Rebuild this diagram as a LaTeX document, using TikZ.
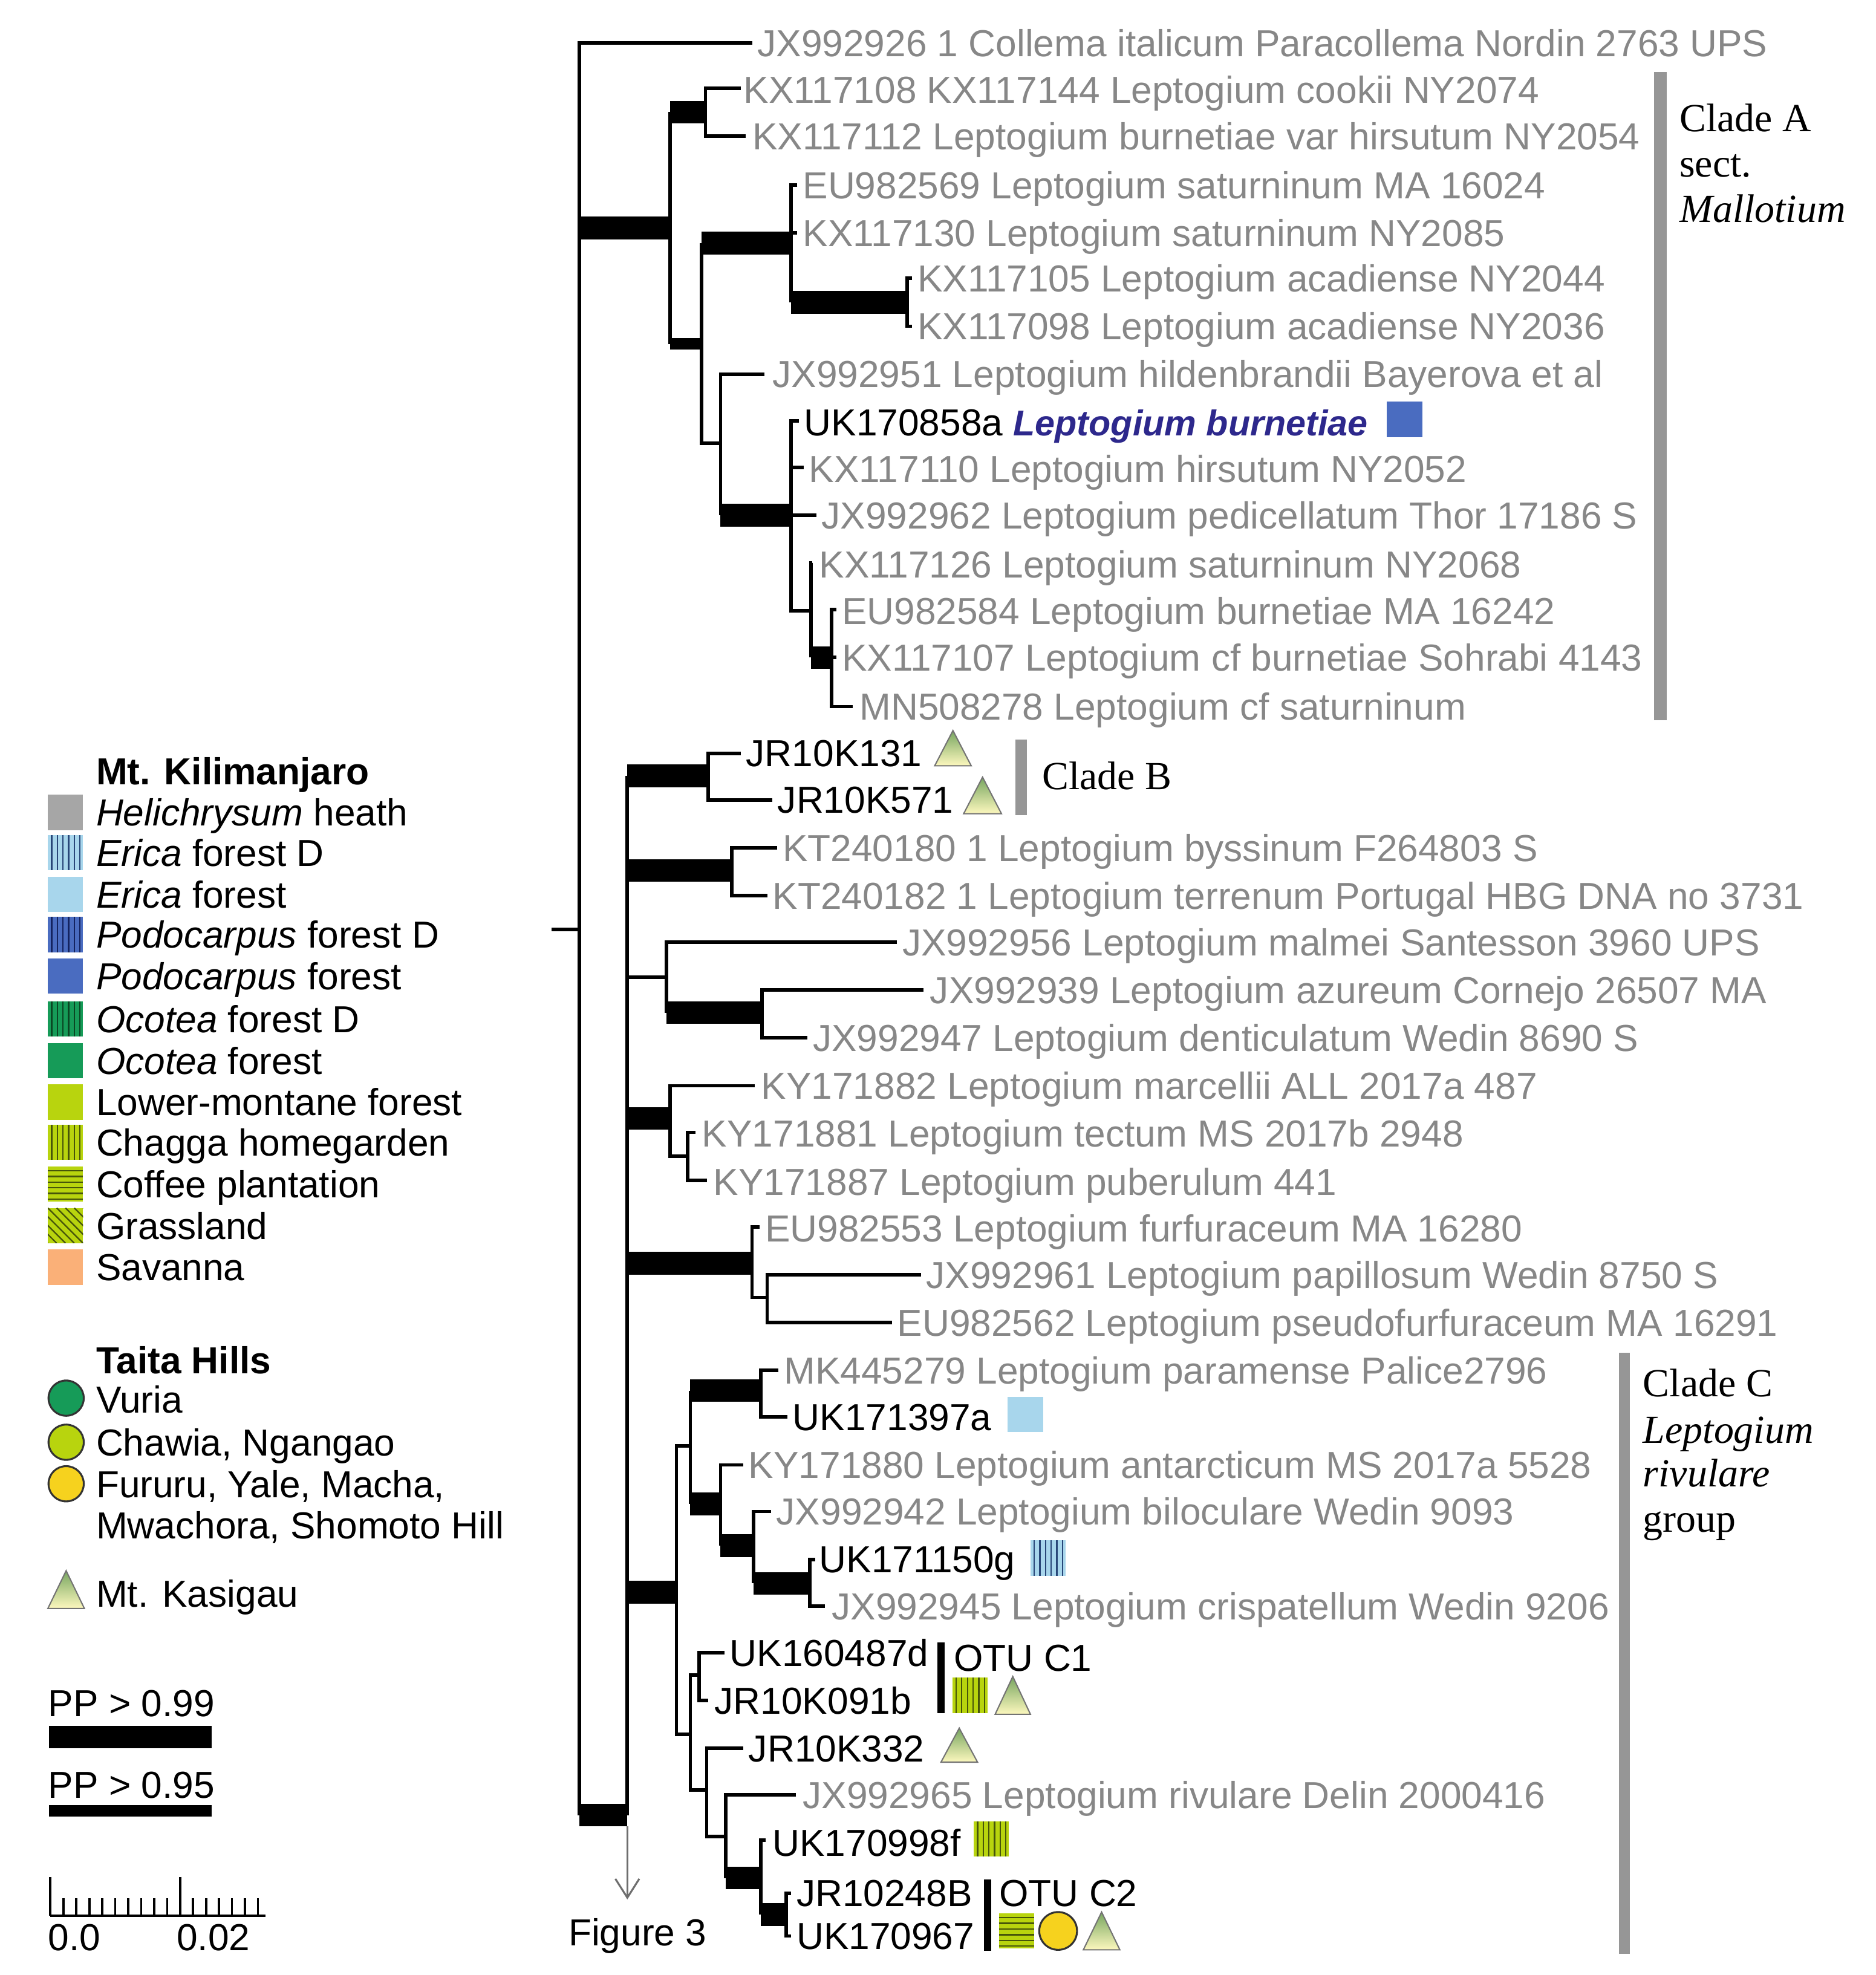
\documentclass[tikz,border=0pt]{standalone}
\usepackage{fontspec}
\setmainfont{Liberation Sans}
\newfontfamily\seriffam{Liberation Serif}
\usetikzlibrary{arrows.meta}
\definecolor{labgray}{RGB}{135,135,135}
\definecolor{cladegray}{RGB}{150,150,150}
\definecolor{arrowgray}{RGB}{110,110,110}
\definecolor{burnblue}{RGB}{45,40,140}
\definecolor{podo}{RGB}{74,108,192}
\definecolor{podod}{RGB}{20,35,95}
\definecolor{erica}{RGB}{168,214,236}
\definecolor{ericad}{RGB}{40,70,120}
\definecolor{heli}{RGB}{166,166,166}
\definecolor{ocotea}{RGB}{22,155,88}
\definecolor{ocotead}{RGB}{10,70,35}
\definecolor{lowm}{RGB}{184,212,14}
\definecolor{olivd}{RGB}{70,85,10}
\definecolor{savanna}{RGB}{250,176,120}
\definecolor{yelc}{RGB}{246,210,30}
\definecolor{trigreen}{RGB}{118,165,95}
\definecolor{triyellow}{RGB}{253,248,190}
\newcommand{\lf}{\fontsize{17}{20}\selectfont}
\newcommand{\cf}{\seriffam\fontsize{18}{21}\selectfont}
\newcommand{\sqfill}[3]{\fill[#3] ({#1-14},{#2-14}) rectangle ({#1+14},{#2+14});}
\newcommand{\sqv}[4]{\sqfill{#1}{#2}{#3}\foreach \dd in {-11,-6.5,-2,2.5,7,11.5}{\draw[#4,line width=0.022cm] ({#1+\dd},{#2-14}) -- ({#1+\dd},{#2+14});}}
\newcommand{\sqh}[4]{\sqfill{#1}{#2}{#3}\foreach \dd in {-10.5,-6,-1.5,3,7.5,12}{\draw[#4,line width=0.022cm] ({#1-14},{#2+\dd}) -- ({#1+14},{#2+\dd});}}
\newcommand{\sqd}[4]{\sqfill{#1}{#2}{#3}\begin{scope}\clip ({#1-14},{#2-14}) rectangle ({#1+14},{#2+14});\foreach \dd in {-35,-28,...,35}{\draw[#4,line width=0.022cm] ({#1-14+\dd},{#2-14}) -- ({#1+14+\dd},{#2+14});}\end{scope}}
\newcommand{\tri}[4]{\shadedraw[top color=trigreen,bottom color=triyellow,draw=black!55,line width=0.02cm] (#1,#4) -- ({(#1+#2)/2},#3) -- (#2,#4) -- cycle;}
\newcommand{\pa}[3]{\fill ({#1},{#3-9}) rectangle ({#2},{#3+9});}
\newcommand{\pb}[3]{\fill ({#1},{#3-4.5}) rectangle ({#2},{#3+4.5});}
\tikzset{
  br/.style={line width=0.056cm},
  lg/.style={anchor=base west, inner sep=0pt, text=labgray, font=\lf, yshift=-6.1pt},
  lb/.style={lg, text=black},
  lh/.style={lg, text=black, font=\lf\bfseries},
  cl/.style={anchor=base west, inner sep=0pt, font=\cf, yshift=-6pt},
}
\begin{document}
\begin{tikzpicture}[x=0.02cm,y=-0.02cm]
\useasboundingbox (0,0) rectangle (1489,1568);
\fill[white] (0,0) rectangle (1489,1568);
% ---------------- tree: root and clade A
\draw[br] (438,738) -- (460,738);
\draw[br] (597,34) -| (460,1441);
\pa{460}{532}{181}
\draw[br] (532,89) -- (532,273);
\pa{532}{560}{89}
\draw[br] (588,70) -| (560,108) -- (592,108);
\pb{532}{557}{273}
\draw[br] (557,193) -- (557,352) -- (572,352);
\pa{557}{628}{193}
\draw[br] (633,147) -| (628,240);
\draw[br] (628,185) -- (633,185);
\pa{628}{720}{240}
\draw[br] (724,221) -| (720,259) -- (724,259);
\draw[br] (607,297) -| (572,409);
\pa{572}{628}{409}
\draw[br] (634,334) -| (628,485) -- (644,485);
\draw[br] (628,371) -- (638,371);
\draw[br] (628,409) -- (648,409);
\draw[br] (645,447) -| (644,522);
\pa{644}{660}{522}
\draw[br] (664,484) -| (660,561) -- (677,561);
\draw[br] (660,522) -- (664,522);
% ---------------- lower part
\pa{460}{498}{1441}
\draw[br] (498,616) -- (498,1441);
\draw[arrowgray,line width=0.03cm,-{Straight Barb[length=0.3cm,width=0.38cm]}] (498,1450) -- (498,1508);
\pa{498}{562}{616}
\draw[br] (588,598) -| (562,635) -- (613,635);
\pa{498}{581}{691}
\draw[br] (617,673) -| (581,711) -- (609,711);
\draw[br] (498,776) -- (529,776);
\draw[br] (712,748) -| (529,804);
\pa{529}{605}{804}
\draw[br] (733,786) -| (605,824) -- (641,824);
\pa{498}{532}{888}
\draw[br] (599,862) -| (532,918) -- (546,918);
\draw[br] (552,899) -| (546,937) -- (561,937);
\pa{498}{597}{1003}
\draw[br] (603,974) -| (597,1030) -- (609,1030);
\draw[br] (731,1012) -| (609,1050) -- (708,1050);
% clade C
\pa{498}{537}{1264}
\draw[br] (548,1148) -| (537,1377) -- (548,1377);
\draw[br] (548,1104) -- (548,1194);
\pa{548}{604}{1104}
\draw[br] (618,1088) -| (604,1125) -- (625,1125);
\pa{548}{572}{1194}
\draw[br] (590,1163) -| (572,1227);
\pa{572}{598}{1227}
\draw[br] (612,1200) -| (598,1257);
\pa{598}{643}{1257}
\draw[br] (647,1238) -| (643,1275) -- (655,1275);
\draw[br] (555,1330) -- (548,1330) -- (548,1421) -- (561,1421);
\draw[br] (575,1312) -| (555,1350) -- (562,1350);
\draw[br] (590,1388) -| (561,1458) -- (576,1458);
\draw[br] (632,1425) -| (576,1491);
\pa{576}{604}{1491}
\draw[br] (608,1461) -| (604,1520);
\pa{604}{624}{1520}
\draw[br] (628,1503) -| (624,1537) -- (628,1537);
% ---------------- labels
\node[lg] (t1) at (601,34) {JX992926 1 Collema italicum Paracollema Nordin 2763 UPS};
\node[lg] (t2) at (590,71) {KX117108 KX117144 Leptogium cookii NY2074};
\node[lg] (t3) at (597,108) {KX117112 Leptogium burnetiae var hirsutum NY2054};
\node[lg] (t4) at (637,147) {EU982569 Leptogium saturninum MA 16024};
\node[lg] (t5) at (637,185) {KX117130 Leptogium saturninum NY2085};
\node[lg] (t6) at (728,221) {KX117105 Leptogium acadiense NY2044};
\node[lg] (t7) at (728,259) {KX117098 Leptogium acadiense NY2036};
\node[lg] (t8) at (613,297) {JX992951 Leptogium hildenbrandii Bayerova et al};
\node[lb] (t9) at (638,335) {UK170858a \textcolor{burnblue}{\fontsize{16.2}{20}\selectfont\bfseries\itshape Leptogium burnetiae}};
\node[lg] (t10) at (642,372) {KX117110 Leptogium hirsutum NY2052};
\node[lg] (t11) at (652,409) {JX992962 Leptogium pedicellatum Thor 17186 S};
\node[lg] (t12) at (650,448) {KX117126 Leptogium saturninum NY2068};
\node[lg] (t13) at (668,485) {EU982584 Leptogium burnetiae MA 16242};
\node[lg] (t14) at (668,522) {KX117107 Leptogium cf burnetiae Sohrabi 4143};
\node[lg] (t15) at (682,561) {MN508278 Leptogium cf saturninum};
\node[lb] (t16) at (592,598) {JR10K131};
\node[lb] (t17) at (617,635) {JR10K571};
\node[lg] (t18) at (621,673) {KT240180 1 Leptogium byssinum F264803 S};
\node[lg] (t19) at (613,711) {KT240182 1 Leptogium terrenum Portugal HBG DNA no 3731};
\node[lg] (t20) at (716,748) {JX992956 Leptogium malmei Santesson 3960 UPS};
\node[lg] (t21) at (738,786) {JX992939 Leptogium azureum Cornejo 26507 MA};
\node[lg] (t22) at (645,824) {JX992947 Leptogium denticulatum Wedin 8690 S};
\node[lg] (t23) at (604,862) {KY171882 Leptogium marcellii ALL 2017a 487};
\node[lg] (t24) at (557,900) {KY171881 Leptogium tectum MS 2017b 2948};
\node[lg] (t25) at (566,938) {KY171887 Leptogium puberulum 441};
\node[lg] (t26) at (607,975) {EU982553 Leptogium furfuraceum MA 16280};
\node[lg] (t27) at (735,1012) {JX992961 Leptogium papillosum Wedin 8750 S};
\node[lg] (t28) at (712,1050) {EU982562 Leptogium pseudofurfuraceum MA 16291};
\node[lg] (t29) at (622,1088) {MK445279 Leptogium paramense Palice2796};
\node[lb] (t30) at (629,1125) {UK171397a};
\node[lg] (t31) at (594,1163) {KY171880 Leptogium antarcticum MS 2017a 5528};
\node[lg] (t32) at (616,1200) {JX992942 Leptogium biloculare Wedin 9093};
\node[lb] (t33) at (650,1238) {UK171150g};
\node[lg] (t34) at (660,1275) {JX992945 Leptogium crispatellum Wedin 9206};
\node[lb] (t35) at (579,1312) {UK160487d};
\node[lb] (t36) at (567,1350) {JR10K091b};
\node[lb] (t37) at (594,1388) {JR10K332};
\node[lg] (t38) at (637,1425) {JX992965 Leptogium rivulare Delin 2000416};
\node[lb] (t39) at (613,1463) {UK170998f};
\node[lb] (t40) at (632,1503) {JR10248B};
\node[lb] (t41) at (632,1537) {UK170967};
% ---------------- symbols in tree
\sqfill{1115}{333}{podo}
\tri{742}{771}{580}{608}
\tri{765}{795}{617}{646}
\sqfill{814}{1123}{erica}
\sqv{832}{1237}{erica}{ericad}
\fill (744,1304) rectangle (750,1360);
\node[lb] (otu1) at (757,1316) {OTU C1};
\sqv{770}{1346}{lowm}{olivd}
\tri{790}{818}{1331}{1361}
\tri{747}{776}{1372}{1399}
\sqv{787}{1460}{lowm}{olivd}
\fill (781,1492) rectangle (787,1549);
\node[lb] (otu2) at (793,1503) {OTU C2};
\sqh{807}{1533}{lowm}{olivd}
\filldraw[fill=yelc,draw=black!80,line width=0.03cm] (840,1533) circle (15);
\tri{860}{889}{1518}{1548}
% ---------------- clade bars
\fill[cladegray] (1313,57) rectangle (1323,572);
\node[cl] (ca1) at (1333,94) {Clade A};
\node[cl] (ca2) at (1333,130) {sect.};
\node[cl] (ca3) at (1333,166) {\itshape Mallotium};
\fill[cladegray] (806,587) rectangle (815,647);
\node[cl] (cb) at (827,616) {Clade B};
\fill[cladegray] (1285,1074) rectangle (1294,1551);
\node[cl] (cc1) at (1304,1098) {Clade C};
\node[cl] (cc2) at (1304,1135) {\itshape Leptogium};
\node[cl] (cc3) at (1304,1170) {\itshape rivulare};
\node[cl] (cc4) at (1304,1206) {group};
\node[lb] (fig3) at (451,1534) {Figure 3};
% ---------------- legend
\node[lh] (kil) at (76,612) {Mt. Kilimanjaro};
\sqfill{52}{645}{heli}
\sqv{52}{677}{erica}{ericad}
\sqfill{52}{710}{erica}
\sqv{52}{742}{podo}{podod}
\sqfill{52}{775}{podo}
\sqv{52}{809}{ocotea}{ocotead}
\sqfill{52}{842}{ocotea}
\sqfill{52}{875}{lowm}
\sqv{52}{907}{lowm}{olivd}
\sqh{52}{940}{lowm}{olivd}
\sqd{52}{973}{lowm}{olivd}
\sqfill{52}{1006}{savanna}
\node[lb] (l1) at (76,645) {\itshape Helichrysum\upshape\ heath};
\node[lb] (l2) at (76,677) {\itshape Erica\upshape\ forest D};
\node[lb] (l3) at (76,710) {\itshape Erica\upshape\ forest};
\node[lb] (l4) at (76,742) {\itshape Podocarpus\upshape\ forest D};
\node[lb] (l5) at (76,775) {\itshape Podocarpus\upshape\ forest};
\node[lb] (l6) at (76,809) {\itshape Ocotea\upshape\ forest D};
\node[lb] (l7) at (76,842) {\itshape Ocotea\upshape\ forest};
\node[lb] (l8) at (76,875) {Lower-montane forest};
\node[lb] (l9) at (76,907) {Chagga homegarden};
\node[lb] (l10) at (76,940) {Coffee plantation};
\node[lb] (l11) at (76,973) {Grassland};
\node[lb] (l12) at (76,1006) {Savanna};
\node[lh] (taita) at (76,1080) {Taita Hills};
\filldraw[fill=ocotea,draw=black!80,line width=0.03cm] (52.5,1110) circle (14);
\filldraw[fill=lowm,draw=black!80,line width=0.03cm] (52.5,1145) circle (14);
\filldraw[fill=yelc,draw=black!80,line width=0.03cm] (52.5,1178) circle (14);
\node[lb] (m1) at (76,1111) {Vuria};
\node[lb] (m2) at (76,1145) {Chawia, Ngangao};
\node[lb] (m3) at (76,1178) {Fururu, Yale, Macha,};
\node[lb] (m4) at (76,1211) {Mwachora, Shomoto Hill};
\tri{38}{67}{1247}{1277}
\node[lb] (m5) at (76,1265) {Mt. Kasigau};
\node[lb] (pp1) at (38,1352) {PP > 0.99};
\fill (39,1370) rectangle (168,1388);
\node[lb] (pp2) at (38,1417) {PP > 0.95};
\fill (39,1433) rectangle (168,1442);
\draw[line width=0.04cm] (40,1521) -- (211,1521);
\draw[line width=0.035cm] (40,1490) -- (40,1521);
\draw[line width=0.035cm] (143,1490) -- (143,1521);
\foreach \k in {1,...,9,11,12,13,14,15,16}{\draw[line width=0.035cm] ({40+10.3*\k},1507) -- ({40+10.3*\k},1521);}
\node[lb] (s0) at (38,1538) {0.0};
\node[lb] (s1) at (140,1538) {0.02};
\end{tikzpicture}
\end{document}
